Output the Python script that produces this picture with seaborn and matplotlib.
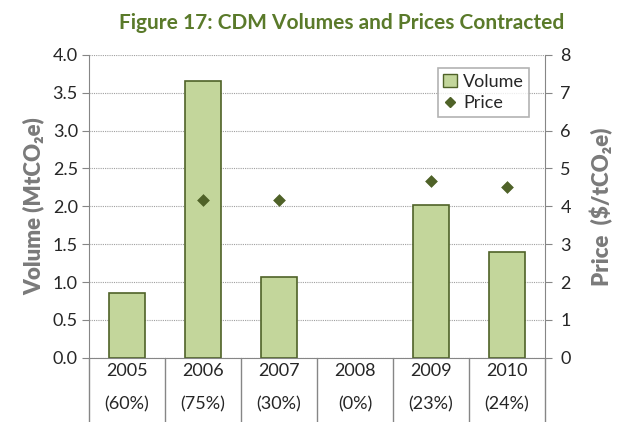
import matplotlib
matplotlib.use("Agg")
import matplotlib.pyplot as plt
import seaborn as sns
import pandas as pd
import numpy as np
from matplotlib.lines import Line2D
from matplotlib.patches import Patch

# Data
years = ["2005", "2006", "2007", "2008", "2009", "2010"]
shares = ["(60%)", "(75%)", "(30%)", "(0%)", "(23%)", "(24%)"]
volume = [0.85, 3.66, 1.07, np.nan, 2.02, 1.40]
price = [np.nan, 4.17, 4.17, np.nan, 4.68, 4.51]

df = pd.DataFrame({"Year": years, "Volume": volume, "Price": price})

sns.set_style("white")
plt.rcParams["font.family"] = ["Lato", "DejaVu Sans"]

bar_face = "#c3d69b"
bar_edge = "#4f6228"
dark_green = "#4f6228"
grey = "#7a7a7a"

fig = plt.figure(figsize=(6.18, 4.22), dpi=100)
ax = fig.add_axes([0.144, 0.152, 0.738, 0.718])

sns.barplot(data=df, x="Year", y="Volume", ax=ax, color=bar_face,
            edgecolor=bar_edge, linewidth=1.2, width=0.47, saturation=1)

ax.set_ylim(0, 4)
ax.set_xlim(-0.5, 5.5)
ax.set_yticks([i * 0.5 for i in range(9)])
ax.set_yticklabels([f"{i * 0.5:.1f}" for i in range(9)], fontsize=13)
ax.yaxis.grid(True, linestyle=(0, (1, 1)), color="#a0a0a0", linewidth=0.8)
ax.set_axisbelow(True)
ax.set_xlabel("")
ax.set_ylabel("Volume (MtCO\u2082e)", fontsize=16, fontweight="heavy", color=grey, labelpad=6)

for s in ["top", "right"]:
    ax.spines[s].set_visible(False)
ax.spines["left"].set_color("#868686")
ax.spines["bottom"].set_color("#868686")
ax.tick_params(axis="y", length=5, color="#868686", direction="out", left=True, pad=3)

# category table below the axis
ax.set_xticks([])
for i, (yr, sh) in enumerate(zip(years, shares)):
    ax.text(i, -0.043, yr, transform=ax.get_xaxis_transform(), ha="center", va="center", fontsize=13)
    ax.text(i, -0.155, sh, transform=ax.get_xaxis_transform(), ha="center", va="center", fontsize=13)
for b in range(7):
    ax.plot([b - 0.5, b - 0.5], [0, -0.22], transform=ax.get_xaxis_transform(),
            color="#868686", linewidth=1, clip_on=False)

ax2 = ax.twinx()
sns.scatterplot(data=df, x="Year", y="Price", ax=ax2, marker="D", s=36,
                color=dark_green, edgecolor=dark_green, legend=False)
ax2.set_ylim(0, 8)
ax2.set_xlim(-0.5, 5.5)
ax2.set_yticks(range(9))
ax2.set_yticklabels([str(i) for i in range(9)], fontsize=13)
ax2.set_ylabel("Price  ($/tCO\u2082e)", fontsize=16, fontweight="heavy", color=grey, labelpad=14)
for s in ["top", "left", "bottom"]:
    ax2.spines[s].set_visible(False)
ax2.spines["right"].set_color("#868686")
ax2.tick_params(axis="y", length=5, color="#868686", direction="out", right=True, pad=6)

handles = [Patch(facecolor=bar_face, edgecolor=bar_edge, label="Volume"),
           Line2D([], [], marker="D", linestyle="none", color=dark_green, markersize=5, label="Price")]
leg = ax2.legend(handles=handles, loc="upper right", bbox_to_anchor=(0.985, 0.985), fontsize=13,
                 frameon=True, fancybox=False, edgecolor="#a0a0a0", handlelength=0.8,
                 handletextpad=0.3, borderpad=0.3, labelspacing=0.3)
leg.get_frame().set_linewidth(1.2)

fig.suptitle("Figure 17: CDM Volumes and Prices Contracted", x=0.552, y=0.97,
             fontsize=15, fontweight="bold", color="#5a7a2a")

fig.savefig("out.png", dpi=100)
